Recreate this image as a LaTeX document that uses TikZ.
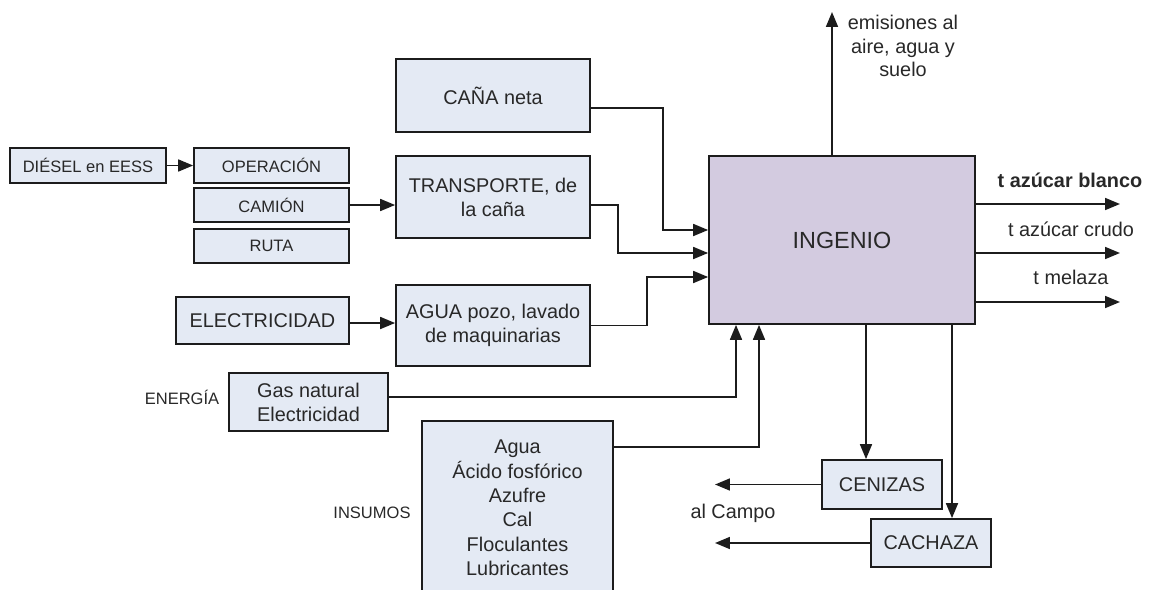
\documentclass[tikz,border=0pt]{standalone}
\usepackage{fontspec}
\setmainfont{Liberation Sans}
\usepackage{xcolor}
\usetikzlibrary{arrows.meta, positioning, calc}
\definecolor{boxfill}{RGB}{228,234,244}
\definecolor{ingfill}{RGB}{211,203,224}
\definecolor{linec}{RGB}{28,28,28}
\definecolor{txtc}{RGB}{40,40,40}

\begin{document}
\begin{tikzpicture}[
      x=0.02cm, y=-0.02cm,
      >={Triangle[length=8.5pt, width=6.8pt]},
      box/.style={draw=linec, line width=1pt, fill=boxfill, inner sep=0pt,
                  align=center, text=txtc, font=\fontsize{11.3}{13.6}\selectfont},
      sbox/.style={box, font=\fontsize{9.4}{11}\selectfont},
      lbl/.style={inner sep=0pt, align=center, text=txtc,
                  font=\fontsize{11.3}{13.6}\selectfont},
      slbl/.style={lbl, font=\fontsize{9.4}{11}\selectfont},
      arr/.style={->, line width=1pt, draw=linec}
    ]
    \useasboundingbox (0,0) rectangle (1153,589);

    % --- Diesel and transport parts ---
    \node[sbox, minimum width=3.12cm, minimum height=0.70cm] (diesel) at (88,165.5)  {DIÉSEL en EESS};
    \node[sbox, minimum width=3.10cm, minimum height=0.70cm] (oper)   at (271.5,165.5) {OPERACIÓN};
    \node[sbox, minimum width=3.10cm, minimum height=0.68cm] (camion) at (271.5,205)   {CAMIÓN};
    \node[sbox, minimum width=3.10cm, minimum height=0.68cm] (ruta)   at (271.5,246)   {RUTA};

    % --- Inputs to the mill ---
    \node[box, minimum width=3.88cm, minimum height=1.46cm] (cana)   at (493,95.5)  {CAÑA neta};
    \node[box, minimum width=3.88cm, minimum height=1.64cm] (transp) at (493,197)   {TRANSPORTE, de\\la caña};
    \node[box, minimum width=3.46cm, minimum height=0.94cm] (elec)   at (262.5,320.5) {ELECTRICIDAD};
    \node[box, minimum width=3.88cm, minimum height=1.62cm] (agua)   at (493,325.5) {AGUA pozo, lavado\\de maquinarias};
    \node[box, minimum width=3.18cm, minimum height=1.16cm] (gas)    at (308.5,402) {Gas natural\\Electricidad};
    \node[box, minimum width=3.82cm, minimum height=3.48cm, font=\fontsize{11.3}{13.9}\selectfont]
      (insumos) at (517.5,508) {Agua\\Ácido fosfórico\\Azufre\\Cal\\Floculantes\\Lubricantes};

    % --- Mill ---
    \node[box, fill=ingfill, minimum width=5.32cm, minimum height=3.36cm,
          font=\fontsize{13.3}{16}\selectfont] (ingenio) at (842,240) {INGENIO};

    % --- Residues ---
    \node[box, minimum width=2.40cm, minimum height=0.98cm] (cenizas) at (882,484.5) {CENIZAS};
    \node[box, minimum width=2.40cm, minimum height=0.96cm] (cachaza) at (931,543)   {CACHAZA};

    % --- Labels ---
    \node[slbl] (energia) at (182,397) {ENERGÍA};
    \node[slbl] (insu)    at (372,513) {INSUMOS};
    \node[lbl]  (emis)    at (903,46)  {emisiones al\\aire, agua y\\suelo};
    \node[lbl, font=\fontsize{11.3}{13.6}\selectfont\bfseries] (blanco) at (1070,180) {t azúcar blanco};
    \node[lbl]  (crudo)   at (1071,229) {t azúcar crudo};
    \node[lbl]  (melaza)  at (1071,277) {t melaza};
    \node[lbl]  (campo)   at (733,513)  {al Campo};

    % --- Free ends ---
    \coordinate (top)    at (832,12);
    \coordinate (outa)   at (1120,204);
    \coordinate (outb)   at (1120,253);
    \coordinate (outc)   at (1120,302);
    \coordinate (campoa) at (715,484.5);
    \coordinate (campob) at (715,543);

    % --- Left side arrows ---
    \draw[arr] (diesel.east) -- (oper.west);
    \draw[arr] (camion.east) -- (camion.east -| transp.west);
    \draw[arr] (elec.east |- 0,323) -- (agua.west |- 0,323);

    % --- Arrows into the mill ---
    \draw[arr] (cana.east |- 0,108) -| (663,230) -- (ingenio.west |- 0,230);
    \draw[arr] (transp.east |- 0,205) -| (618,253) -- (ingenio.west |- 0,253);
    \draw[arr] (agua.east) -| (647,277) -- (ingenio.west |- 0,277);
    \draw[arr] (gas.east |- 0,397) -| (ingenio.south -| 736,0);
    \draw[arr] (insumos.east |- 0,447) -| (ingenio.south -| 759,0);

    % --- Outputs ---
    \draw[arr] (ingenio.north -| top) -- (top);
    \draw[arr] (ingenio.east |- outa) -- (outa);
    \draw[arr] (ingenio.east |- outb) -- (outb);
    \draw[arr] (ingenio.east |- outc) -- (outc);
    \draw[arr] (ingenio.south -| 866,0) -- (cenizas.north -| 866,0);
    \draw[arr] (ingenio.south -| 952,0) -- (cachaza.north -| 952,0);
    \draw[arr] (cenizas.west) -- (campoa);
    \draw[arr] (cachaza.west) -- (campob);

  \end{tikzpicture}
\end{document}
